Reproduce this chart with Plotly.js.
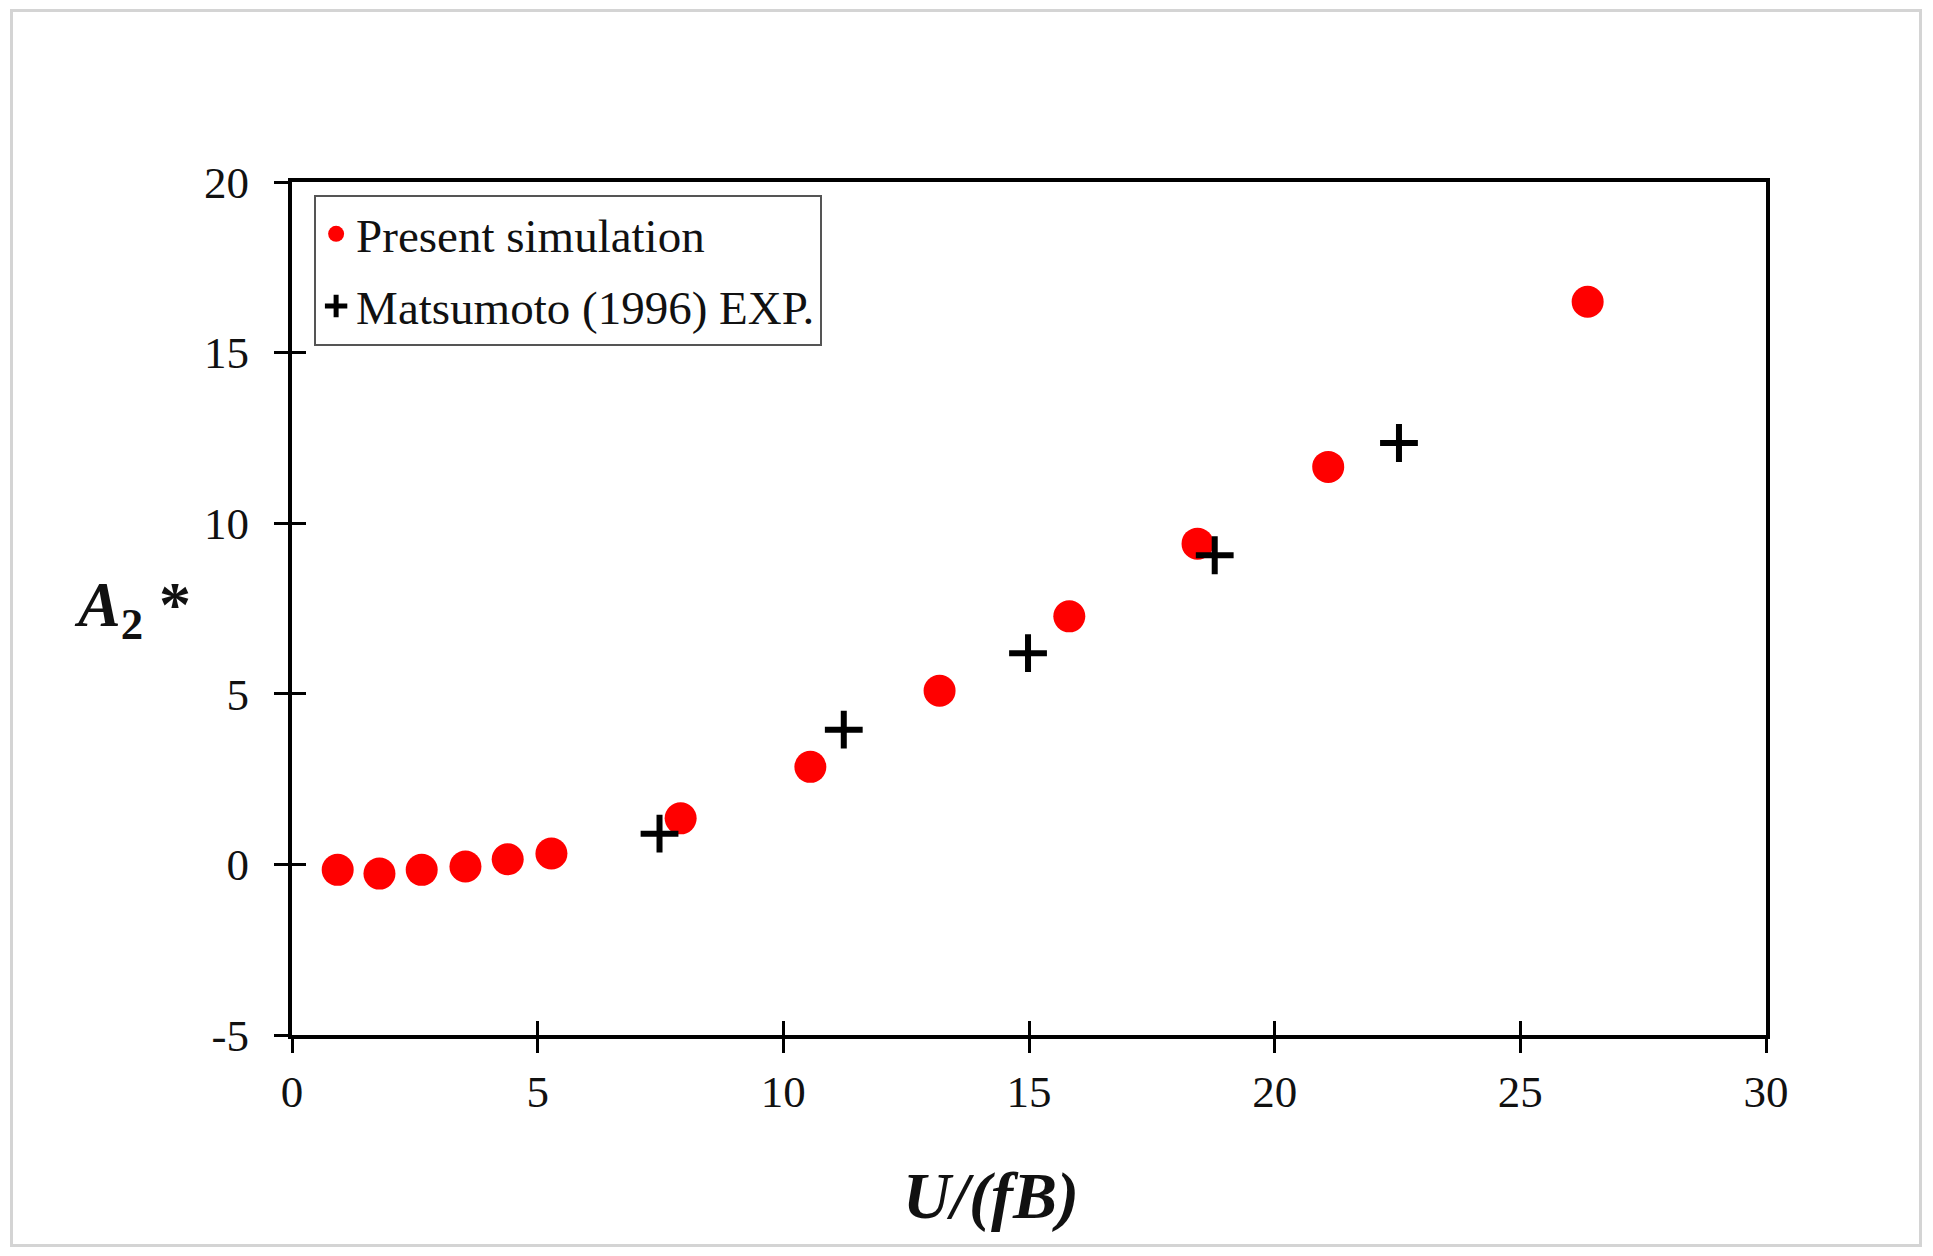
<!DOCTYPE html>
<html>
<head>
<meta charset="utf-8">
<script src="https://cdn.plot.ly/plotly-3.0.1.min.js"></script>
<style>
  html, body { margin: 0; padding: 0; background: #ffffff; }
  #wrap { position: relative; width: 1933px; height: 1256px; }
  #frame { position: absolute; left: 10px; top: 9px; width: 1912px; height: 1238px;
           border: 3px solid #d4d4d4; box-sizing: border-box; pointer-events: none; }
  #chart { position: absolute; left: 0; top: 0; width: 1933px; height: 1256px; }
</style>
</head>
<body>
<div id="wrap">
  <div id="chart"></div>
  <div id="frame"></div>
</div>
<script>
// ---- data ----
const simName = "Present simulation";
const simX = [0.93, 1.78, 2.64, 3.53, 4.39, 5.28, 7.91, 10.55, 13.18, 15.82, 18.43, 21.09, 26.37];
const simY = [-0.16, -0.27, -0.16, -0.06, 0.15, 0.32, 1.35, 2.86, 5.09, 7.27, 9.40, 11.65, 16.49];

const expName = "Matsumoto (1996) EXP.";
const expX = [7.48, 11.23, 14.98, 18.78, 22.53];
const expY = [0.90, 3.95, 6.19, 9.06, 12.35];

const xTickVals = [0, 5, 10, 15, 20, 25, 30];
const xTickText = ["0", "5", "10", "15", "20", "25", "30"];
const yTickVals = [-5, 0, 5, 10, 15, 20];
const yTickText = ["-5", "0", "5", "10", "15", "20"];
const xRange = [0, 30];
const yRange = [-5, 20];
const xTitle = "<b><i>U/(fB)</i></b>";
const yTitle = "<b><i>A</i><sub>2</sub></b><b> *</b>";

// ---- chart ----
const FONT = "Liberation Serif, Times New Roman, serif";

const traces = [
  {
    type: "scatter", mode: "markers", name: simName,
    x: simX, y: simY, legendgroup: "a",
    marker: { symbol: "circle", size: 32, color: "#ff0000" }
  },
  {
    type: "scatter", mode: "markers", name: expName,
    x: expX, y: expY, legendgroup: "b",
    marker: { symbol: "cross-thin", size: 27, color: "#000000",
              line: { color: "#000000", width: 6 } }
  },
  // empty helper traces that switch on the inner-tick overlay axes
  { type: "scatter", mode: "markers", x: [], y: [], xaxis: "x2", yaxis: "y",
    showlegend: false, hoverinfo: "skip" },
  { type: "scatter", mode: "markers", x: [], y: [], xaxis: "x", yaxis: "y2",
    showlegend: false, hoverinfo: "skip" }
];

const axisCommon = {
  showgrid: false, zeroline: false,
  linecolor: "#000000", linewidth: 4, mirror: true,
  ticks: "outside", ticklen: 14, tickwidth: 3, tickcolor: "#000000",
  tickfont: { family: FONT, size: 45, color: "#111111" }
};

const layout = {
  width: 1933, height: 1256,
  paper_bgcolor: "#ffffff", plot_bgcolor: "#ffffff",
  margin: { l: 292, r: 167, t: 182, b: 221, pad: 0 },
  showlegend: true,
  xaxis: Object.assign({}, axisCommon, {
    range: xRange, tickvals: xTickVals, ticktext: xTickText, ticklabelstandoff: 0
  }),
  yaxis: Object.assign({}, axisCommon, {
    range: yRange, tickvals: yTickVals, ticktext: yTickText, ticklabelstandoff: 16
  }),
  xaxis2: {
    overlaying: "x", anchor: "y", side: "bottom", range: xRange, tickvals: xTickVals,
    showgrid: false, zeroline: false, showline: false, showticklabels: false,
    ticks: "inside", ticklen: 14, tickwidth: 3, tickcolor: "#000000"
  },
  yaxis2: {
    overlaying: "y", anchor: "x", side: "left", range: yRange, tickvals: yTickVals,
    showgrid: false, zeroline: false, showline: false, showticklabels: false,
    ticks: "inside", ticklen: 14, tickwidth: 3, tickcolor: "#000000"
  },
  legend: {
    x: 0.015, y: 0.985, xanchor: "left", yanchor: "top",
    bgcolor: "#ffffff", bordercolor: "#555555", borderwidth: 2,
    font: { family: FONT, size: 47, color: "#111111" },
    traceorder: "grouped", tracegroupgap: 8,
    itemwidth: 30
  },
  annotations: [
    {
      text: xTitle, xref: "paper", yref: "paper", x: 0.474, y: -0.189,
      xanchor: "center", yanchor: "middle", showarrow: false,
      font: { family: FONT, size: 66, color: "#111111" }
    },
    {
      text: yTitle, xref: "paper", yref: "paper", x: -0.108, y: 0.5,
      xanchor: "center", yanchor: "middle", showarrow: false,
      font: { family: FONT, size: 64, color: "#111111" }
    }
  ]
};

Plotly.newPlot("chart", traces, layout, { displayModeBar: false, staticPlot: true });
</script>
</body>
</html>
